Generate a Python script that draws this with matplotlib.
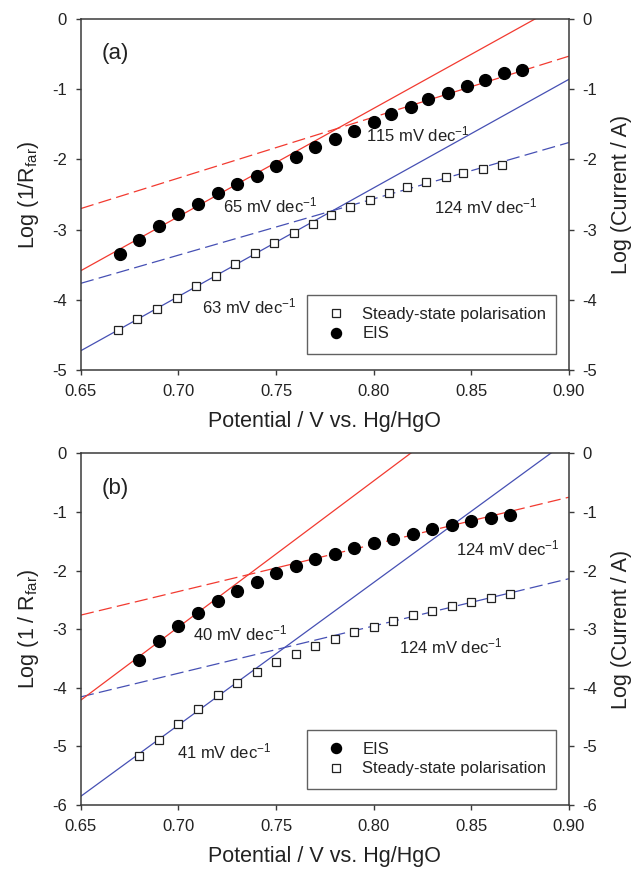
import matplotlib
matplotlib.use("Agg")
import matplotlib.pyplot as plt

# ----------------- data ------------------------------------------------#
# panel (a)
a_eis_x = [0.67, 0.68, 0.69, 0.70, 0.71, 0.72, 0.73, 0.74, 0.75, 0.76, 0.77,
           0.78, 0.79, 0.80, 0.809, 0.819, 0.828, 0.838, 0.848, 0.857, 0.867, 0.876]
a_eis_y = [-3.35, -3.15, -2.95, -2.78, -2.63, -2.48, -2.355, -2.23, -2.09, -1.96, -1.83,
           -1.71, -1.59, -1.47, -1.35, -1.25, -1.14, -1.05, -0.96, -0.865, -0.77, -0.72]
a_ss_x = [0.669, 0.679, 0.689, 0.699, 0.709, 0.719, 0.729, 0.739, 0.749, 0.759, 0.769,
          0.778, 0.788, 0.798, 0.808, 0.817, 0.827, 0.837, 0.846, 0.856, 0.866]
a_ss_y = [-4.43, -4.28, -4.135, -3.98, -3.81, -3.66, -3.49, -3.34, -3.19, -3.05, -2.92,
          -2.79, -2.68, -2.575, -2.48, -2.395, -2.325, -2.25, -2.19, -2.13, -2.075]

# Tafel fit lines, end points at 0.65 V and 0.90 V
fit_x = [0.65, 0.90]
a_red_solid = [-3.585, 0.267]
a_red_dash = [-2.70, -0.53]
a_blue_solid = [-4.725, -0.86]
a_blue_dash = [-3.765, -1.76]

# panel (b)
b_eis_x = [0.68, 0.69, 0.70, 0.71, 0.72, 0.73, 0.74, 0.75, 0.76, 0.77,
           0.78, 0.79, 0.80, 0.81, 0.82, 0.83, 0.84, 0.85, 0.86, 0.87]
b_eis_y = [-3.53, -3.21, -2.95, -2.72, -2.52, -2.345, -2.19, -2.05, -1.92, -1.81,
           -1.71, -1.61, -1.53, -1.46, -1.38, -1.30, -1.23, -1.155, -1.10, -1.05]
b_ss_x = b_eis_x
b_ss_y = [-5.165, -4.89, -4.62, -4.36, -4.12, -3.92, -3.73, -3.56, -3.42, -3.28,
          -3.16, -3.05, -2.96, -2.855, -2.765, -2.69, -2.61, -2.545, -2.47, -2.40]

b_red_solid = [-4.21, 2.02]
b_red_dash = [-2.76, -0.75]
b_blue_solid = [-5.85, 0.225]
b_blue_dash = [-4.155, -2.14]

# slope labels: (text, x, y)
a_notes = [("115 mV dec$^{-1}$", 0.796, -1.65),
           ("65 mV dec$^{-1}$", 0.7226, -2.65),
           ("124 mV dec$^{-1}$", 0.831, -2.67),
           ("63 mV dec$^{-1}$", 0.7118, -4.10)]
b_notes = [("124 mV dec$^{-1}$", 0.842, -1.62),
           ("40 mV dec$^{-1}$", 0.7072, -3.07),
           ("124 mV dec$^{-1}$", 0.813, -3.30),
           ("41 mV dec$^{-1}$", 0.699, -5.09)]

x_ticks = [0.65, 0.70, 0.75, 0.80, 0.85, 0.90]

# ----------------- style -----------------------------------------------#
plt.rcParams['font.family'] = ['Liberation Sans', 'DejaVu Sans']
plt.rcParams['mathtext.fontset'] = 'custom'
plt.rcParams['mathtext.rm'] = 'Liberation Sans'
plt.rcParams['mathtext.it'] = 'Liberation Sans:italic'
plt.rcParams['mathtext.default'] = 'regular'
plt.rcParams['axes.unicode_minus'] = False
plt.rcParams['lines.scale_dashes'] = False

RED = '#f23a30'
BLUE = '#4650b4'
AXCOL = '#3a3a3a'
TXT = '#222222'
DASH = (9.5, 3.8)


def style_axes(ax, ymin, ylabel_left):
    ax.set_xlim(0.65, 0.90)
    ax.set_ylim(ymin, 0)
    ax.set_xticks(x_ticks)
    ax.set_xticklabels([f"{t:.2f}" for t in x_ticks])
    ax.set_yticks(range(ymin, 1))
    for sp in ax.spines.values():
        sp.set_color(AXCOL)
        sp.set_linewidth(1.1)
    ax.tick_params(direction='out', length=3.5, width=1.0, color=AXCOL,
                   labelsize=12, labelcolor=TXT, pad=6.5)
    ax.set_xlabel("Potential / V vs. Hg/HgO", fontsize=15.5, color=TXT, labelpad=9)
    ax.set_ylabel(ylabel_left, fontsize=15.5, color=TXT, labelpad=8)

    # right hand axis shares the scale
    axr = ax.twinx()
    axr.set_ylim(ymin, 0)
    axr.set_yticks(range(ymin, 1))
    for sp in axr.spines.values():
        sp.set_visible(False)
    axr.tick_params(direction='out', length=3.5, width=1.0, color=AXCOL,
                    labelsize=12, labelcolor=TXT, pad=6.5)
    axr.set_ylabel("Log (Current / A)", fontsize=15.5, color=TXT, labelpad=10)


def draw_fits(ax, red_solid, red_dash, blue_solid, blue_dash):
    ax.plot(fit_x, red_dash, color=RED, lw=0.9, dashes=DASH, zorder=2)
    ax.plot(fit_x, blue_dash, color=BLUE, lw=0.9, dashes=DASH, zorder=2)
    ax.plot(fit_x, red_solid, color=RED, lw=0.9, zorder=2)
    ax.plot(fit_x, blue_solid, color=BLUE, lw=0.9, zorder=2)


def draw_points(ax, x, y, kind, label):
    if kind == 'eis':
        return ax.plot(x, y, 'o', ms=8.5, color='black', mec='black', label=label,
                       zorder=4)[0]
    return ax.plot(x, y, 's', ms=6, mfc='white', mec='#222222', mew=0.9,
                   label=label, zorder=4)[0]


def add_legend(ax, handles):
    leg = ax.legend(handles=handles, loc='lower left',
                    bbox_to_anchor=(0.4625, 0.046, 0.5105, 0.16), mode='expand',
                    borderaxespad=0, fontsize=12, frameon=True, fancybox=False,
                    borderpad=0.75, handlelength=2.0, handletextpad=0.6,
                    labelspacing=0.25, numpoints=1, markerscale=0.85)
    fr = leg.get_frame()
    fr.set_edgecolor(AXCOL)
    fr.set_linewidth(1.0)
    for t in leg.get_texts():
        t.set_color(TXT)


fig = plt.figure(figsize=(6.32, 8.72), dpi=100)

# --------- panel (a) -------------------#
ax1 = fig.add_axes([0.128, 0.5757, 0.772, 0.4025])
draw_fits(ax1, a_red_solid, a_red_dash, a_blue_solid, a_blue_dash)
h_ss = draw_points(ax1, a_ss_x, a_ss_y, 'ss', "Steady-state polarisation")
h_eis = draw_points(ax1, a_eis_x, a_eis_y, 'eis', "EIS")
for txt, x, y in a_notes:
    ax1.text(x, y, txt, fontsize=12, color=TXT, va='center', ha='left', zorder=5)
ax1.text(0.07, 0.903, "(a)", transform=ax1.transAxes, fontsize=16, color=TXT,
         ha='center', va='center')
style_axes(ax1, -5, "Log (1/R$_{far}$)")
add_legend(ax1, [h_ss, h_eis])

# --------- panel (b) -------------------#
ax2 = fig.add_axes([0.128, 0.0768, 0.772, 0.4034])
draw_fits(ax2, b_red_solid, b_red_dash, b_blue_solid, b_blue_dash)
h_eis = draw_points(ax2, b_eis_x, b_eis_y, 'eis', "EIS")
h_ss = draw_points(ax2, b_ss_x, b_ss_y, 'ss', "Steady-state polarisation")
for txt, x, y in b_notes:
    ax2.text(x, y, txt, fontsize=12, color=TXT, va='center', ha='left', zorder=5)
ax2.text(0.07, 0.9005, "(b)", transform=ax2.transAxes, fontsize=16, color=TXT,
         ha='center', va='center')
style_axes(ax2, -6, "Log (1 / R$_{far}$)")
add_legend(ax2, [h_eis, h_ss])

fig.savefig("out.png", dpi=100)
